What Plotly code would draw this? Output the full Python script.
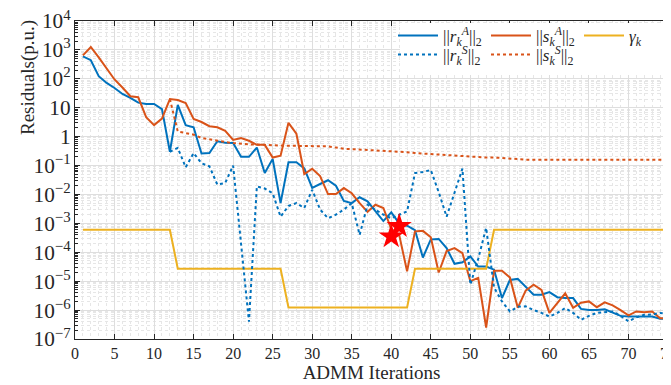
import plotly.graph_objects as go

iters = list(range(1, 76))

r_A = [600, 440, 123, 72, 48, 30, 22, 15, 13.5, 13.5,
       9, 0.3, 12.6, 2.5, 2.1, 0.26, 0.27, 0.69, 0.62, 0.6,
       0.2, 0.2, 0.42, 0.055, 0.17, 0.005, 0.13, 0.13, 0.08, 0.017,
       0.023, 0.031, 0.02, 0.006, 0.005, 0.008, 0.0058, 0.0027, 0.0012, 0.0024,
       0.001, 0.00083, 0.00058, 6.6e-5, 2.8e-4, 2.9e-4, 1.4e-4, 4e-5, 4.5e-5, 7.2e-5,
       3.2e-5, 3.2e-5, 2.5e-5, 2.6e-6, 1.1e-5, 1.2e-5, 6.6e-6, 3.4e-6, 3.4e-6, 4.2e-6,
       2.8e-6, 2.6e-6, 2.6e-6, 1.1e-6, 1.0e-6, 1.0e-6, 1.07e-6, 8e-7, 6.3e-7, 6e-7,
       6e-7, 6e-7, 6e-7, 5e-7, 5e-7]

s_A = [650, 1260, 550, 225, 95, 50, 25, 23, 4.7, 2.5,
       4.2, 20, 18.5, 14.5, 4.1, 3.2, 2.3, 2.1, 1.6, 0.77,
       0.89, 0.72, 0.52, 0.52, 0.19, 0.22, 3.0, 1.26, 0.051, 0.078,
       0.043, 0.0103, 0.0103, 0.0166, 0.011, 0.005, 0.0025, 0.0044, 0.0034, 6.3e-4,
       4e-4, 2.2e-5, 5.3e-4, 5.5e-4, 3.3e-4, 2e-5, 1.1e-4, 1.4e-4, 9.4e-5, 1.0e-5,
       1.3e-5, 2.5e-7, 2.3e-5, 2.3e-5, 1.35e-5, 1.2e-6, 4.7e-6, 7.6e-6, 5e-6, 8e-7,
       1.7e-6, 3.8e-6, 1.2e-6, 1.8e-6, 2e-6, 1.26e-6, 1.85e-6, 1.45e-6, 1.0e-6, 6.6e-7,
       9e-7, 8.5e-7, 9e-7, 5.2e-7, 5.2e-7]

r_S = [None] * 11 + [
       0.3, 0.41, 0.087, 0.27, 0.12, 0.094, 0.022, 0.025, 0.10,
       2e-4, 4e-7, 0.019, 0.016, 0.011, 0.0017, 0.004, 0.005, 0.0034, 0.0145,
       0.003, 0.0015, 0.002, 0.003, 0.005, 4e-4, 0.0044, 0.003, 0.002, 0.0015,
       0.002, 0.0026, 0.055, 0.06, 0.07, 0.012, 0.0017, 0.012, 0.078, 7.6e-6,
       6e-5, 7e-4, 6e-6, 2e-6, 9e-7, 1.3e-6, 1.35e-6, 1e-6, 8e-7, 6e-7,
       8e-7, 1.17e-6, 8e-7, 4.6e-7, 6.3e-7, 8e-7, 8.3e-7, 9e-7, 6.3e-7, 4.1e-7,
       5.6e-7, 6.9e-7, 7e-7, 8e-7, 7.5e-7]

s_S = [None] * 11 + [
       20, 1.5, 1.33, 1.17, 0.9, 0.8, 0.7, 0.65, 0.6,
       0.56, 0.54, 0.53, 0.51, 0.5, 0.49, 0.48, 0.48, 0.47, 0.47,
       0.46, 0.46, 0.42, 0.38, 0.37, 0.36, 0.35, 0.34, 0.33, 0.32,
       0.31, 0.29, 0.27, 0.26, 0.25, 0.24, 0.23, 0.22, 0.21, 0.2,
       0.2, 0.19, 0.19, 0.18, 0.18, 0.165, 0.16, 0.16, 0.16, 0.16,
       0.16, 0.16, 0.16, 0.16, 0.16, 0.16, 0.16, 0.16, 0.16, 0.16,
       0.16, 0.16, 0.16, 0.16, 0.16]

gamma = [6e-4] * 12 + [2.7e-5] * 14 + [1.23e-6] * 16 + [2.7e-5] * 10 + [6e-4] * 23

star_x = [40, 41]
star_y = [3.5e-4, 8e-4]

xticks = list(range(0, 80, 5))

BLUE = "#0072BD"
ORANGE = "#D95319"
YELLOW = "#EDB120"
FONT = "Liberation Serif"
TXT = "#262626"

fig = go.Figure()
fig.add_trace(go.Scatter(x=iters, y=r_A, mode="lines", line=dict(color=BLUE, width=2),
                         name="||<i>r</i><sub><i>k</i></sub><sup><i>A</i></sup>||<sub>2</sub>", legend="legend"))
fig.add_trace(go.Scatter(x=iters, y=s_A, mode="lines", line=dict(color=ORANGE, width=2),
                         name="||<i>s</i><sub><i>k</i></sub><sup><i>A</i></sup>||<sub>2</sub>", legend="legend2"))
fig.add_trace(go.Scatter(x=iters, y=gamma, mode="lines", line=dict(color=YELLOW, width=2),
                         name="<i>γ</i><sub><i>k</i></sub>", legend="legend3"))
fig.add_trace(go.Scatter(x=iters, y=r_S, mode="lines", line=dict(color=BLUE, width=2, dash="dot"),
                         name="||<i>r</i><sub><i>k</i></sub><sup><i>S</i></sup>||<sub>2</sub>", legend="legend4"))
fig.add_trace(go.Scatter(x=iters, y=s_S, mode="lines", line=dict(color=ORANGE, width=2, dash="dot"),
                         name="||<i>s</i><sub><i>k</i></sub><sup><i>S</i></sup>||<sub>2</sub>", legend="legend5"))
fig.add_trace(go.Scatter(x=star_x, y=star_y, mode="markers",
                         marker=dict(symbol="star", size=19, color="#FF0000", line=dict(width=0)),
                         showlegend=False))

W, H = 671, 385
L, R, T, B = 67, 11, 13, 54
pw, ph = W - L - R, H - T - B

def px_x(p):
    return (p - L) / pw

def px_y(p):
    return (H - B - p) / ph

fig.add_shape(type="rect", xref="paper", yref="paper",
              x0=px_x(392), x1=px_x(658), y0=px_y(67), y1=px_y(15),
              fillcolor="white", line=dict(width=0), layer="above")

fig.add_annotation(text="Residuals(p.u.)", xref="paper", yref="paper",
                   x=px_x(20), y=px_y(70), xanchor="center", yanchor="middle",
                   textangle=-90, showarrow=False,
                   font=dict(family=FONT, size=19, color=TXT))

def leg(xp, yp):
    return dict(x=px_x(xp), y=px_y(yp), xanchor="left", yanchor="middle",
                orientation="v", bgcolor="rgba(0,0,0,0)", borderwidth=0,
                font=dict(family=FONT, size=17, color=TXT), itemwidth=40)

fig.update_layout(
    width=W, height=H,
    margin=dict(l=L, r=R, t=T, b=B, autoexpand=False),
    paper_bgcolor="white", plot_bgcolor="white",
    font=dict(family=FONT, size=17, color=TXT),
    showlegend=True,
    legend=leg(385, 28),
    legend2=leg(478, 28),
    legend3=leg(571, 28),
    legend4=leg(385, 47),
    legend5=leg(478, 47),
    xaxis=dict(
        range=[0, 75], tickvals=xticks, ticks="inside", ticklen=5, tickcolor=TXT,
        showline=True, linecolor=TXT, linewidth=1, mirror="ticks",
        showgrid=True, gridcolor="#dedede", gridwidth=1, zeroline=False,
        ticklabeloverflow="allow",
        minor=dict(dtick=1, showgrid=True, gridcolor="#e6e6e6", griddash="dot", gridwidth=1, ticks=""),
        title=dict(text="ADMM Iterations", font=dict(family=FONT, size=19), standoff=4),
        tickfont=dict(family=FONT, size=16),
    ),
    yaxis=dict(
        type="log", range=[-7, 4], dtick=1, exponentformat="power",
        ticks="inside", ticklen=5, tickcolor=TXT,
        showline=True, linecolor=TXT, linewidth=1, mirror="ticks",
        showgrid=True, gridcolor="#dedede", gridwidth=1, zeroline=False,
        ticklabeloverflow="allow",
        minor=dict(dtick="D1", showgrid=True, gridcolor="#e6e6e6", griddash="dot", gridwidth=1,
                   ticks="inside", ticklen=3, tickcolor=TXT),
        tickfont=dict(family=FONT, size=17),
    ),
)

fig.write_html("out.html")
